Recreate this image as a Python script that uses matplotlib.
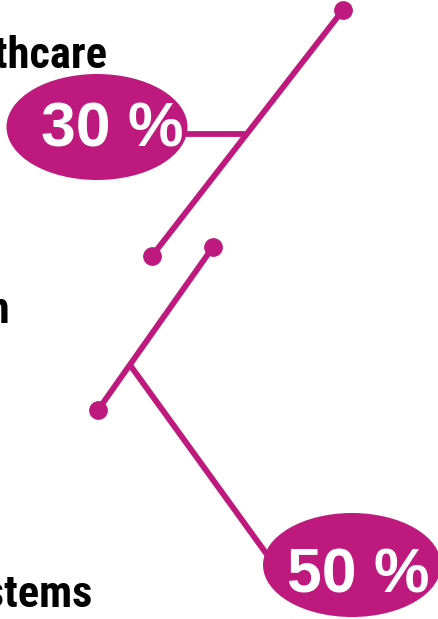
import matplotlib.pyplot as plt
from matplotlib.patches import Ellipse

# Daten: Anteile und Beschriftungen
percentages = [30, 50]
labels = ["Healthcare", "Prevention", "Systems"]

MAGENTA = "#BE1A7E"
LABEL_FONT = ["Roboto Condensed", "IBM Plex Sans Condensed", "DejaVu Sans"]
PCT_FONT = ["Liberation Sans", "DejaVu Sans"]

# Layout in Pixelkoordinaten (Bild 438x619, y nach unten)
label_pos = [(107, 68), (10, 323), (93, 607)]
stems = [((343, 10), (152, 256)), ((213, 247), (98, 410))]
branches = [((246, 134), (185, 134)), ((130, 365), (268, 556))]
bubbles = [(97, 127, 181, 106), (352, 565, 178, 104)]
pct_pos = [(112, 130), (358, 576)]

fig = plt.figure(figsize=(4.38, 6.19), dpi=100)
ax = fig.add_axes([0, 0, 1, 1])
ax.set_xlim(0, 438)
ax.set_ylim(619, 0)
ax.axis("off")

# Beschriftungen links (teilweise abgeschnitten, wie im Original)
for text, (x, y) in zip(labels, label_pos):
    ax.text(x, y, text, ha="right", va="baseline", family=LABEL_FONT,
            fontweight="bold", fontsize=32, color="black")

# Linien mit Punkten an den Enden
for (p0, p1) in stems:
    ax.plot([p0[0], p1[0]], [p0[1], p1[1]], color=MAGENTA, lw=4.2,
            solid_capstyle="butt", zorder=2)
    ax.plot([p0[0], p1[0]], [p0[1], p1[1]], "o", color=MAGENTA, ms=12.5,
            zorder=3)

for (p0, p1) in branches:
    ax.plot([p0[0], p1[0]], [p0[1], p1[1]], color=MAGENTA, lw=4.2,
            solid_capstyle="butt", zorder=2)

# Ellipsen mit Prozentwerten
for (cx, cy, w, h), pct, (tx, ty) in zip(bubbles, percentages, pct_pos):
    ax.add_patch(Ellipse((cx, cy), w, h, facecolor=MAGENTA, edgecolor="none",
                         zorder=4))
    ax.text(tx, ty, f"{pct} %", ha="center", va="center", family=PCT_FONT,
            fontweight="bold", fontsize=45, color="white", zorder=5)

plt.savefig("out.png", dpi=100)
